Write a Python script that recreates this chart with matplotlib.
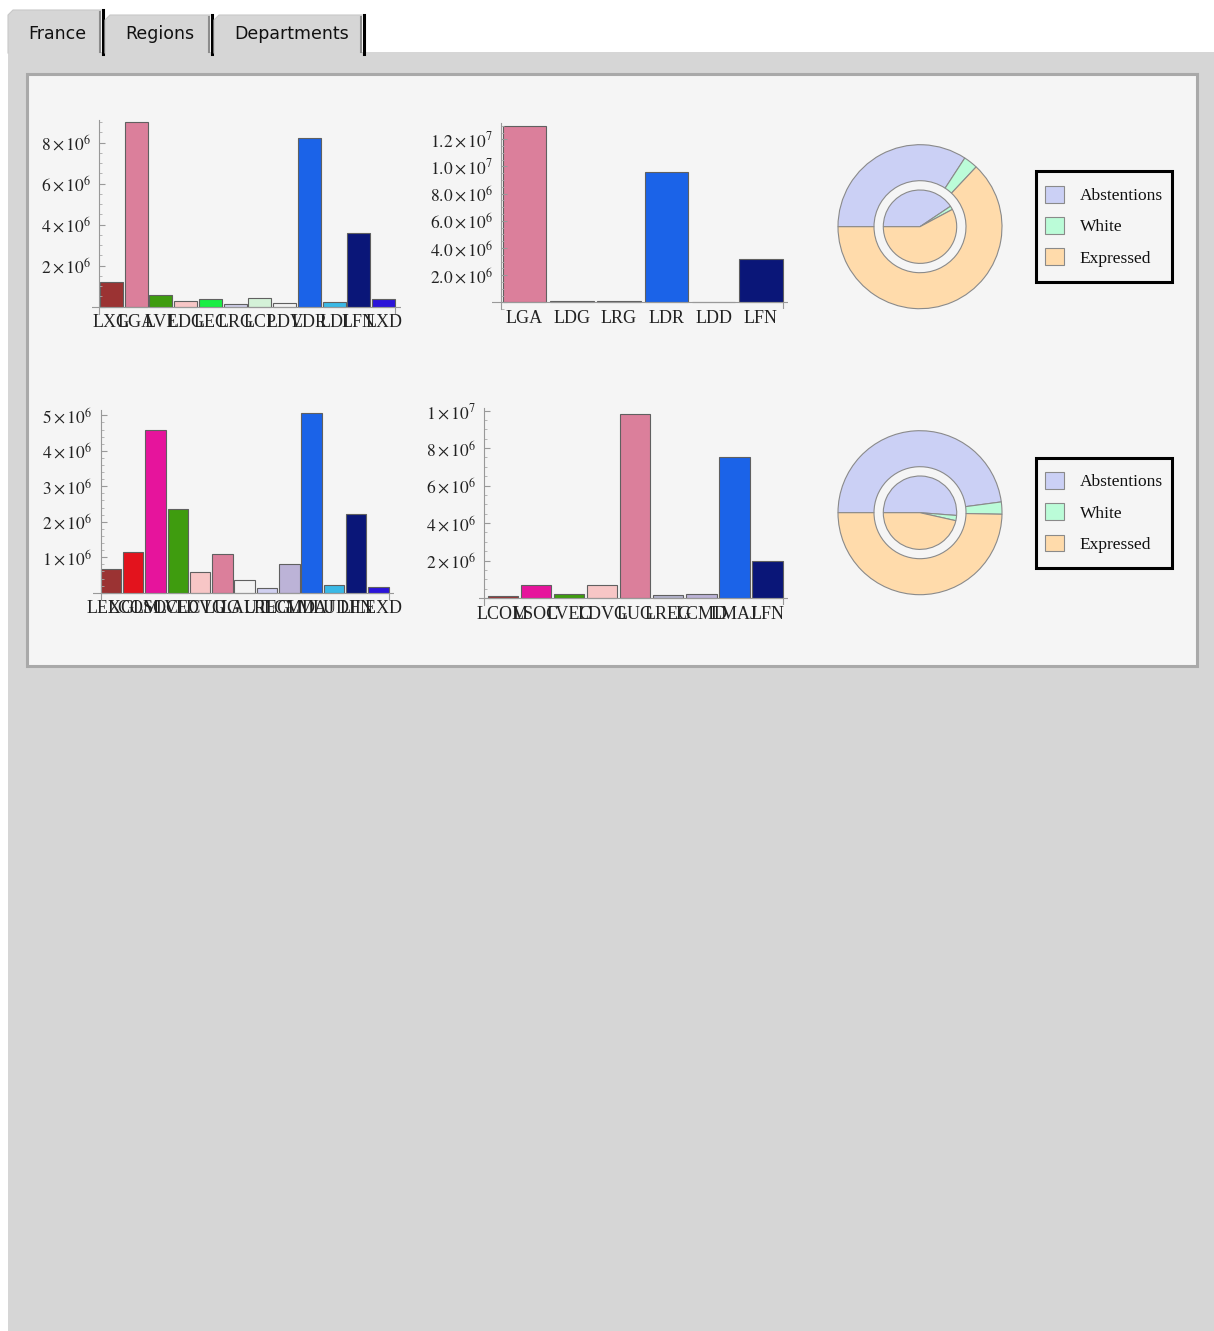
import numpy as np
import matplotlib
matplotlib.use("Agg")
import matplotlib.pyplot as plt
from matplotlib.patches import Rectangle, Polygon
from matplotlib.ticker import MultipleLocator, FuncFormatter

# --- donnees ---
# France, premier tour (nuances)
fr_labels = ["LXG", "LGA", "LVE", "LDG", "LEC", "LRG", "LCP", "LDV", "LDR", "LDI", "LFN", "LXD"]
fr_values = [1.20e6, 8.98e6, 0.57e6, 0.26e6, 0.39e6, 0.11e6, 0.41e6, 0.20e6, 8.21e6, 0.21e6, 3.59e6, 0.37e6]
fr_colors = ["#9b3333", "#db7f9b", "#3f9c0f", "#f7c6c6", "#1aee44", "#cfcfe8", "#d4f2d8", "#f3f3f3",
             "#1b63e8", "#3ab9e6", "#0a1678", "#2b14d8"]

# France, second tour (blocs)
fr2_labels = ["LGA", "LDG", "LRG", "LDR", "LDD", "LFN"]
fr2_values = [1.298e7, 1.2e5, 7e4, 0.957e7, 2e4, 0.321e7]
fr2_colors = ["#db7f9b", "#b07a7a", "#8a8ab0", "#1b63e8", "#333355", "#0a1678"]

# Regions, premier tour
reg_labels = ["LEXG", "LCOM", "LSOC", "LVEC", "LDVG", "LUG", "LAUT", "LREG", "LCMD", "LMAJ", "LUDI", "LFN", "LEXD"]
reg_values = [0.66e6, 1.14e6, 4.58e6, 2.36e6, 0.59e6, 1.08e6, 0.36e6, 0.14e6, 0.81e6, 5.06e6, 0.23e6, 2.23e6, 0.17e6]
reg_colors = ["#9b3333", "#e3131d", "#e6149c", "#3f9c0f", "#f7c6c6", "#db7f9b", "#f3f3f3", "#d0d0f0",
              "#bcb3d7", "#1b63e8", "#3ab9e6", "#0a1678", "#2b14d8"]

# Regions, second tour
reg2_labels = ["LCOM", "LSOC", "LVEC", "LDVG", "LUG", "LREG", "LCMD", "LMAJ", "LFN"]
reg2_values = [0.09e6, 0.68e6, 0.20e6, 0.71e6, 9.84e6, 0.14e6, 0.20e6, 7.51e6, 1.96e6]
reg2_colors = ["#9b3333", "#e6149c", "#3f9c0f", "#f7c6c6", "#db7f9b", "#b4b4cc", "#bcb3d7", "#1b63e8", "#0a1678"]

# participation (parts en %)
part_labels = ["Abstentions", "White", "Expressed"]
part_colors = ["#cbd0f5", "#bbfcd8", "#ffdbab"]
fr_outer = [34.2, 2.8, 63.0]
fr_inner = [40.6, 1.6, 57.8]
reg_outer = [47.9, 2.4, 49.7]
reg_inner = [51.2, 2.3, 46.5]

tabs = ["France", "Regions", "Departments"]

W, H = 1214, 1331
plt.rcParams["font.family"] = ["Liberation Serif", "DejaVu Serif"]
plt.rcParams["mathtext.fontset"] = "stix"

fig = plt.figure(figsize=(W / 100, H / 100), dpi=100)
fig.patch.set_facecolor("white")

# fond, onglets et cadre (coordonnees en pixels)
bg = fig.add_axes([0, 0, 1, 1], zorder=0)
bg.set_xlim(0, W)
bg.set_ylim(H, 0)
bg.axis("off")
bg.add_patch(Rectangle((8, 52), W - 8, H - 52, facecolor="#d6d6d6", edgecolor="none"))
tab_x = [(8, 101, 10), (105, 210, 15), (214, 362, 15)]
for (x0, x1, y0), name in zip(tab_x, tabs):
    bg.add_patch(Polygon([(x0, 53), (x0, y0 + 5), (x0 + 5, y0), (x1, y0), (x1, 53)],
                         closed=True, facecolor="#d6d6d6", edgecolor="none"))
    bg.plot([x0, x0, x0 + 5, x1], [53, y0 + 5, y0, y0], color="#c8c8c8", lw=0.8)
    bg.plot([x1 - 1, x1 - 1], [y0 + 2, 52], color="#8c8c8c", lw=1.5)
    bg.plot([x1 + 1.5, x1 + 1.5], [y0, 54], color="black", lw=2.2)
    bg.text(x0 + 20, 34, name, fontsize=12.5, family="DejaVu Sans", color="#111111", va="center")
bg.add_patch(Rectangle((27, 74), 1170, 592, facecolor="#f5f5f5", edgecolor="#a9a9a9", lw=2.2))


def sci(v, dec):
    if v <= 0:
        return ""
    e = int(np.floor(np.log10(v) + 1e-9))
    m = v / 10 ** e
    return r"$%s\times10^{%d}$" % (("%." + str(dec) + "f") % m, e)


def bar_panel(vals, labels, colors, box, ymax, major, minor, dec):
    axis_l, axis_r, yax, bars_l, bars_r, top, zero = box
    n = len(vals)
    w = 0.92
    s = (bars_r - bars_l) / (n - 1 + w)
    ext = 7
    ppu = (zero - top) / ymax
    ax = fig.add_axes([axis_l / W, 1 - (zero + ext) / H, (axis_r - axis_l) / W, (zero + ext - top) / H])
    ax.patch.set_alpha(0)
    x = np.arange(n)
    ax.bar(x, vals, width=w, color=colors, edgecolor="#606060", linewidth=0.8)
    ax.set_xlim(-w / 2 - (bars_l - axis_l) / s, n - 1 + w / 2 + (axis_r - bars_r) / s)
    ax.set_ylim(-ext / ppu, ymax)
    for sp in ["top", "right", "bottom"]:
        ax.spines[sp].set_visible(False)
    ax.spines["left"].set_position(("data", -w / 2 - (bars_l - yax) / s))
    ax.spines["left"].set_color("#999999")
    ax.spines["left"].set_linewidth(0.8)
    ax.axhline(0, color="#999999", lw=0.8)
    ax.plot([n - 1 + w / 2] * 2, [0, -ext / ppu], color="#999999", lw=0.8)
    ax.yaxis.set_major_locator(MultipleLocator(major))
    ax.yaxis.set_minor_locator(MultipleLocator(minor))
    ax.yaxis.set_major_formatter(FuncFormatter(lambda v, p: sci(v, dec)))
    ax.tick_params(axis="y", which="major", direction="in", length=4, color="#999999",
                   labelsize=12.5, pad=6, labelcolor="#222222")
    ax.tick_params(axis="y", which="minor", direction="in", length=2.5, color="#aaaaaa")
    ax.set_xticks(x, labels)
    ax.tick_params(axis="x", length=0, labelsize=13, pad=0.5, labelcolor="#222222")
    return ax


def pie_panel(outer, inner, cx, cy, legend_box):
    r = 82
    sz = 2 * r * 1.06
    ax = fig.add_axes([(cx - sz / 2) / W, 1 - (cy + sz / 2) / H, sz / W, sz / H])
    wp = dict(edgecolor="#8a8a8a", linewidth=0.8)
    wedges, _ = ax.pie(outer, colors=part_colors, radius=1, startangle=180, counterclock=False,
                       wedgeprops=dict(width=1 - 46 / r, **wp))
    ax.pie(inner, colors=part_colors, radius=36.7 / r, startangle=180, counterclock=False, wedgeprops=wp)
    ax.set_xlim(-1.06, 1.06)
    ax.set_ylim(-1.06, 1.06)
    # cadre de la legende dessine a part (marges inegales dans l'original)
    lx0, ly0, lx1, ly1 = legend_box
    bg.add_patch(Rectangle((lx0, ly0), lx1 - lx0, ly1 - ly0, facecolor="#f5f5f5", edgecolor="black", lw=2.2))
    leg = fig.legend(wedges, part_labels, loc="center",
                     bbox_to_anchor=((lx0 + lx1) / 2 / W, 1 - (ly0 + ly1) / 2 / H),
                     fontsize=12.5, frameon=False, handlelength=1.1, handleheight=1.1,
                     handletextpad=0.9, labelspacing=0.75, borderpad=0.0, borderaxespad=0)
    for t in leg.get_texts():
        t.set_color("#111111")
    return ax


bar_panel(fr_values, fr_labels, fr_colors, (92, 401, 99, 100, 395, 120, 306.7), 9.1e6, 2e6, 0.5e6, 0)
bar_panel(fr2_values, fr2_labels, fr2_colors, (492, 788, 501, 502.7, 782.7, 123, 302.3), 1.32e7, 2e6, 0.5e6, 1)
bar_panel(reg_values, reg_labels, reg_colors, (92.7, 394, 100.7, 100.7, 388.7, 410, 592.7), 5.15e6, 1e6, 0.2e6, 0)
bar_panel(reg2_values, reg2_labels, reg2_colors, (479.3, 788.3, 484.3, 487.7, 782.7, 408, 598), 1.014e7, 2e6, 0.5e6, 0)

pie_panel(fr_outer, fr_inner, 920, 226.7, (1036, 171, 1172, 281.5))
pie_panel(reg_outer, reg_inner, 920, 512.7, (1036, 457.5, 1172, 567.5))

fig.savefig("out.png", dpi=100)
